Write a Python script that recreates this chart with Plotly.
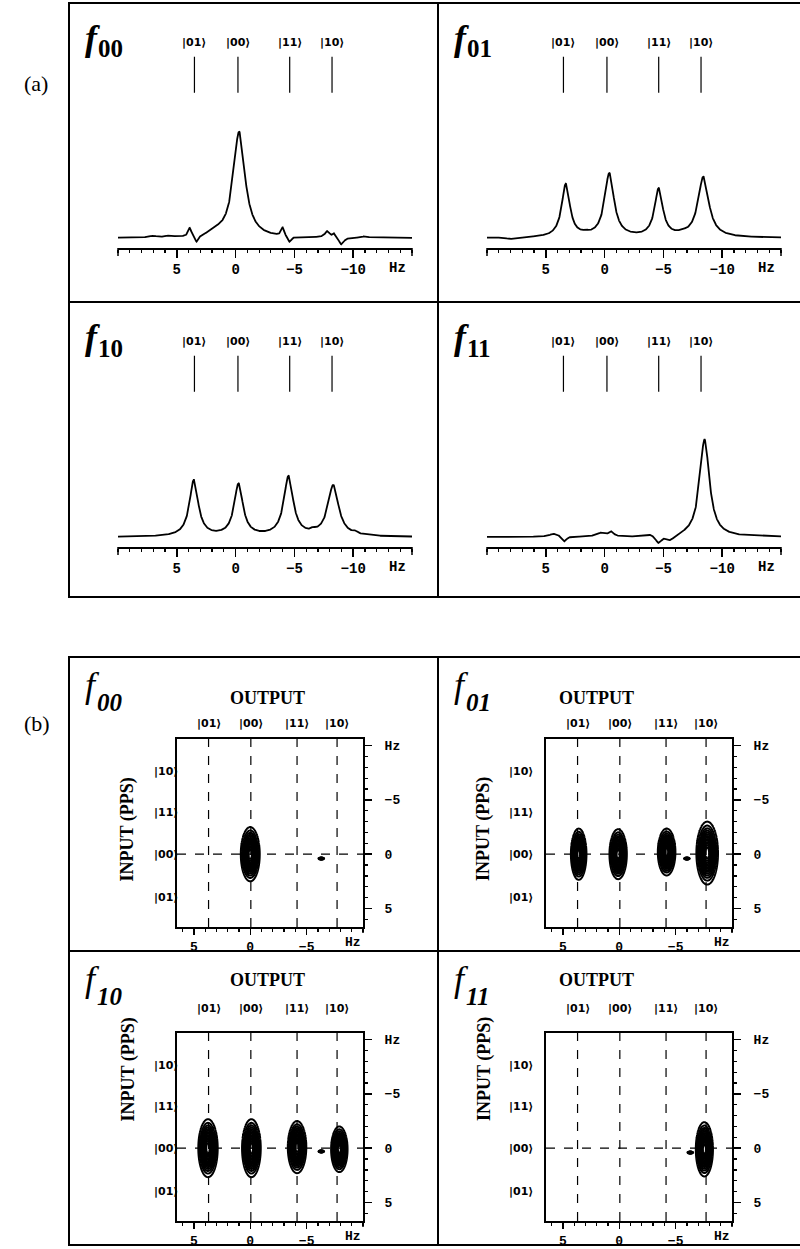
import numpy as np
import plotly.graph_objects as go

W, H = 800, 1249

# ---------------- data ----------------
panels = ["00", "01", "10", "11"]
ket_labels = ["|01⟩", "|00⟩", "|11⟩", "|10⟩"]

# (a) 1D spectra -- axis ticks and ket marker positions (Hz)
tick_vals_1d = [5, 0, -5, -10]
tick_text_1d = ["5", "0", "−5", "−10"]
ket_pos_1d = [3.5, -0.2, -4.6, -8.2]
# peaks of each spectrum: centre (Hz), height, half width (Hz)
f00_center = [-0.3, 3.9, 3.3, 1.6, -4.0, -4.6, -7.8, -8.4, -9.0, 7.0, 5.6, -11.0]
f00_height = [1.00, 0.08, -0.07, 0.03, 0.08, -0.06, 0.06, 0.04, -0.07, 0.015, 0.015, 0.015]
f00_width = [0.60, 0.15, 0.20, 0.60, 0.15, 0.20, 0.25, 0.15, 0.25, 0.3, 0.3, 0.3]

f01_center = [3.3, -0.4, -4.6, -8.4, 8.0, 1.6, -6.6]
f01_height = [0.50, 0.60, 0.45, 0.57, -0.015, 0.015, 0.015]
f01_width = [0.42, 0.48, 0.42, 0.55, 0.4, 0.3, 0.3]

f10_center = [3.55, -0.25, -4.5, -8.3, -6.6, -10.2]
f10_height = [0.53, 0.49, 0.56, 0.48, 0.02, 0.02]
f10_width = [0.45, 0.45, 0.48, 0.55, 0.2, 0.2]

f11_center = [-8.5, 4.3, 3.4, 0.2, -0.6, -4.6, -5.6, -3.9]
f11_height = [0.92, 0.03, -0.05, 0.04, 0.04, -0.07, -0.05, 0.02]
f11_width = [0.50, 0.50, 0.20, 0.50, 0.20, 0.30, 0.35, 0.30]

spectra = {
    "00": (f00_center, f00_height, f00_width),
    "01": (f01_center, f01_height, f01_width),
    "10": (f10_center, f10_height, f10_width),
    "11": (f11_center, f11_height, f11_width),
}

# (b) 2D spectra -- ticks, output/input ket positions (Hz)
tick_vals_2dx = [5, 0, -5]
tick_text_2dx = ["5", "0", "−5"]
tick_vals_2dy = [-10, -5, 0, 5]
tick_text_2dy = ["Hz", "−5", "0", "5"]
out_pos_2d = [3.7, -0.05, -4.15, -7.7]
in_labels = ["|10⟩", "|11⟩", "|00⟩", "|01⟩"]
in_pos_2d = [-7.6, -3.8, 0.0, 4.0]
# cross peaks: x (output Hz), y (input Hz), outer semi axes (Hz)
p00_x = [0.0, -6.3]
p00_y = [0.0, 0.4]
p00_sx = [0.84, 0.25]
p00_sy = [2.5, 0.09]

p01_x = [3.6, 0.1, -4.2, -7.8, -6.0]
p01_y = [0.0, 0.0, -0.2, -0.1, 0.4]
p01_sx = [0.69, 0.77, 0.78, 0.96, 0.25]
p01_sy = [2.36, 2.3, 2.16, 2.9, 0.09]

p10_x = [3.75, -0.1, -4.15, -7.9, -6.3]
p10_y = [0.0, 0.0, -0.1, 0.1, 0.3]
p10_sx = [0.86, 0.83, 0.82, 0.73, 0.25]
p10_sy = [2.67, 2.67, 2.4, 2.1, 0.09]

p11_x = [-7.55, -6.3]
p11_y = [0.1, 0.4]
p11_sx = [0.76, 0.25]
p11_sy = [2.5, 0.09]

peaks2d = {
    "00": (p00_x, p00_y, p00_sx, p00_sy),
    "01": (p01_x, p01_y, p01_sx, p01_sy),
    "10": (p10_x, p10_y, p10_sx, p10_sy),
    "11": (p11_x, p11_y, p11_sx, p11_sy),
}

# ---------------- layout helpers ----------------
def px(x):
    return x / W


def py(y):
    return 1 - y / H


cells_a = {"00": (69, 3), "01": (438, 3), "10": (69, 302), "11": (438, 302)}
cells_b = {"00": (69, 657), "01": (438, 657), "10": (69, 951), "11": (438, 951)}

MONO = "Liberation Mono"
SERIF = "Liberation Serif"
KETF = dict(family="DejaVu Sans", size=11, color="black", weight="bold")
TK = dict(color="black", width=1.5)

fig = go.Figure()
layout = dict(
    width=W, height=H, margin=dict(l=0, r=0, t=0, b=0, autoexpand=False),
    paper_bgcolor="white", plot_bgcolor="white", showlegend=False,
)
shapes = []
annotations = []


def add_title(ox, oy, name, f_dy, sub_dx, sub_dy, f_bold, sub_italic):
    ftxt = "<i>f</i>"
    if f_bold:
        ftxt = "<b>" + ftxt + "</b>"
    stxt = "<b>%s</b>" % name
    if sub_italic:
        stxt = "<i>" + stxt + "</i>"
    annotations.append(dict(x=px(ox + 14), y=py(oy + f_dy), xref="paper", yref="paper",
                            xanchor="left", yanchor="middle", text=ftxt,
                            showarrow=False,
                            font=dict(family=SERIF, size=36, color="black")))
    annotations.append(dict(x=px(ox + sub_dx), y=py(oy + sub_dy), xref="paper",
                            yref="paper", xanchor="left", yanchor="middle", text=stxt,
                            showarrow=False,
                            font=dict(family=SERIF, size=25, color="black")))


# ---------------- (a) 1D spectra ----------------
xs = np.arange(-15, 10.0001, 0.02)
YR = [-0.094, 1.915]
for i, name in enumerate(panels, start=1):
    ox, oy = cells_a[name]
    sfx = "" if i == 1 else str(i)
    c, h, w = spectra[name]
    ys = np.zeros_like(xs)
    for cc, hh, ww in zip(c, h, w):
        ys += hh / (1 + ((xs - cc) / ww) ** 2)
    fig.add_trace(go.Scatter(x=xs, y=ys, mode="lines",
                             line=dict(color="black", width=1.8),
                             xaxis="x" + sfx, yaxis="y" + sfx, hoverinfo="skip"))
    layout["xaxis" + sfx] = dict(
        domain=[px(ox + 49), px(ox + 343)], range=[10, -15], anchor="y" + sfx,
        showline=True, linecolor="black", linewidth=1.5, showgrid=False, zeroline=False,
        ticks="outside", ticklen=8, tickwidth=1.5, tickcolor="black",
        tickmode="array", tickvals=tick_vals_1d, ticktext=tick_text_1d,
        tickfont=dict(family=MONO, size=14, color="black", weight="bold"),
        minor=dict(ticks="outside", ticklen=3, tickwidth=1.2, tickcolor="black",
                   tickmode="linear", tick0=0, dtick=1, showgrid=False),
        fixedrange=True,
    )
    layout["yaxis" + sfx] = dict(
        domain=[py(oy + 245), py(oy + 32)], range=YR, anchor="x" + sfx,
        visible=False, fixedrange=True,
    )
    # end ticks of the axis (at +10 and -15 Hz)
    for ex in (ox + 49, ox + 343):
        shapes.append(dict(type="line", xref="paper", yref="paper",
                           x0=px(ex), x1=px(ex), y0=py(oy + 245), y1=py(oy + 253),
                           line=TK))
    for kp, kl in zip(ket_pos_1d, ket_labels):
        shapes.append(dict(type="line", xref="x" + sfx, yref="y" + sfx,
                           x0=kp, x1=kp, y0=1.37, y1=1.71,
                           line=dict(color="black", width=1.2)))
        annotations.append(dict(x=kp, y=1.84, xref="x" + sfx, yref="y" + sfx,
                                text=kl, showarrow=False, font=KETF))
    annotations.append(dict(x=-13.8, y=0, xref="x" + sfx, yref="y" + sfx + " domain",
                            yanchor="middle", yshift=-20, text="<b>Hz</b>",
                            showarrow=False,
                            font=dict(family=MONO, size=14, color="black")))
    add_title(ox, oy, name, 35, 27, 46, True, False)

# ---------------- (b) 2D spectra ----------------
xg = np.arange(-10.0, 6.5001, 0.04)
yg = np.arange(-10.6, 6.7001, 0.04)
XX, YY = np.meshgrid(xg, yg)
for j, name in enumerate(panels):
    i = j + 5
    sfx = str(i)
    ox, oy = cells_b[name]
    x0p, x1p = ox + 108, ox + 294
    y0p, y1p = oy + 82, oy + 270
    pxs, pys, psx, psy = peaks2d[name]
    Z = np.zeros_like(XX)
    for a, b, sa, sb in zip(pxs, pys, psx, psy):
        ga, gb = sa / 2.25, sb / 2.25
        Z = np.maximum(Z, np.exp(-0.5 * (((XX - a) / ga) ** 2 + ((YY - b) / gb) ** 2)))
    Z = np.round(Z, 4)
    fig.add_trace(go.Contour(
        x=xg, y=yg, z=Z, xaxis="x" + sfx, yaxis="y" + sfx,
        contours=dict(coloring="lines", start=0.08, end=0.98, size=0.065),
        colorscale=[[0, "black"], [1, "black"]], showscale=False,
        line=dict(width=2, smoothing=1), hoverinfo="skip",
    ))
    layout["xaxis" + sfx] = dict(
        domain=[px(x0p), px(x1p)], range=[6.5, -10], anchor="y" + sfx, side="bottom",
        showline=True, mirror=True, linecolor="black", linewidth=2,
        showgrid=False, zeroline=False,
        ticks="outside", ticklen=6, tickwidth=1.5, tickcolor="black",
        tickmode="array", tickvals=tick_vals_2dx, ticktext=tick_text_2dx,
        tickfont=dict(family=MONO, size=13, color="black", weight="bold"),
        minor=dict(ticks="outside", ticklen=3, tickwidth=1.2, tickcolor="black",
                   tickmode="linear", tick0=0, dtick=1, showgrid=False),
        fixedrange=True,
    )
    layout["yaxis" + sfx] = dict(
        domain=[py(y1p), py(y0p)], range=[6.7, -10.6], anchor="x" + sfx, side="right",
        showline=True, mirror=True, linecolor="black", linewidth=2,
        showgrid=False, zeroline=False,
        ticks="outside", ticklen=7, tickwidth=1.5, tickcolor="black",
        tickmode="array", tickvals=tick_vals_2dy, ticktext=tick_text_2dy,
        tickfont=dict(family=MONO, size=13, color="black", weight="bold"),
        ticklabelstandoff=10,
        minor=dict(ticks="outside", ticklen=3, tickwidth=1.2, tickcolor="black",
                   tickmode="linear", tick0=0, dtick=1, showgrid=False),
        fixedrange=True,
    )
    # major tick at the right end of the bottom axis
    shapes.append(dict(type="line", xref="paper", yref="paper",
                       x0=px(x1p), x1=px(x1p), y0=py(y1p), y1=py(y1p + 6), line=TK))
    for op, kl in zip(out_pos_2d, ket_labels):
        shapes.append(dict(type="line", xref="x" + sfx, yref="y" + sfx + " domain",
                           x0=op, x1=op, y0=0, y1=1,
                           line=dict(color="black", width=1.2, dash="dash")))
        annotations.append(dict(x=op, y=py(oy + 66), xref="x" + sfx, yref="paper",
                                text=kl, showarrow=False, font=KETF))
    shapes.append(dict(type="line", xref="x" + sfx + " domain", yref="y" + sfx,
                       x0=0, x1=1, y0=0, y1=0,
                       line=dict(color="black", width=1.2, dash="dash")))
    for ip, kl in zip(in_pos_2d, in_labels):
        annotations.append(dict(x=px(ox + 83), y=ip, xref="paper", yref="y" + sfx,
                                text=kl, showarrow=False, font=KETF))
    annotations.append(dict(x=px((x0p + x1p) / 2 - 3), y=py(oy + 41), xref="paper",
                            yref="paper", text="<b>OUTPUT</b>", showarrow=False,
                            font=dict(family=SERIF, size=18, color="black")))
    annotations.append(dict(x=px(ox + 46), y=py(oy + 172), xref="paper", yref="paper",
                            text="<b>INPUT (PPS)</b>", textangle=-90, showarrow=False,
                            font=dict(family=SERIF, size=18, color="black")))
    annotations.append(dict(x=-9.1, y=0, xref="x" + sfx, yref="y" + sfx + " domain",
                            yanchor="middle", yshift=-15, text="<b>Hz</b>",
                            showarrow=False,
                            font=dict(family=MONO, size=13, color="black")))
    add_title(ox, oy, name, 28, 26, 45, False, True)

# ---------------- frames ----------------
BL = dict(color="black", width=2)
for top, mid, bot in [(3, 302, 597), (657, 951, 1245)]:
    shapes.append(dict(type="rect", xref="paper", yref="paper",
                       x0=px(69), x1=px(803), y0=py(bot), y1=py(top), line=BL))
    shapes.append(dict(type="line", xref="paper", yref="paper",
                       x0=px(438), x1=px(438), y0=py(bot), y1=py(top), line=BL))
    shapes.append(dict(type="line", xref="paper", yref="paper",
                       x0=px(69), x1=px(803), y0=py(mid), y1=py(mid), line=BL))

annotations.append(dict(x=px(22), y=py(69), xref="paper", yref="paper", text="(a)",
                        showarrow=False, font=dict(family=SERIF, size=22, color="black")))
annotations.append(dict(x=px(22), y=py(723), xref="paper", yref="paper", text="(b)",
                        showarrow=False, font=dict(family=SERIF, size=22, color="black")))

layout["shapes"] = shapes
layout["annotations"] = annotations
fig.update_layout(**layout)
fig.write_html("out.html",
               config={"displayModeBar": False, "staticPlot": True},
               post_script="document.body.style.margin='0';"
                           "document.body.style.overflow='hidden';")
